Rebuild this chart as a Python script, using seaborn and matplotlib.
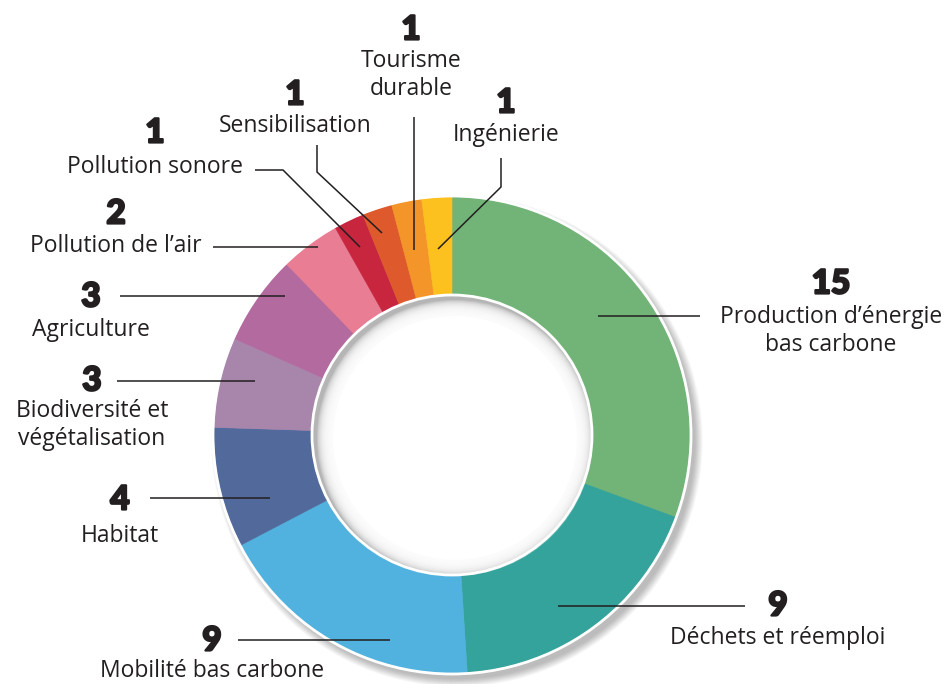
import matplotlib.pyplot as plt
import matplotlib.patches as mpatches
import matplotlib.patheffects as pe
import numpy as np
import seaborn as sns

sns.set_theme(style="white")
plt.rcParams['font.family'] = ['Open Sans', 'DejaVu Sans']

# data
labels = ["Production d\u2019énergie\nbas carbone", "Déchets et réemploi", "Mobilité bas carbone",
          "Habitat", "Biodiversité et\nvégétalisation", "Agriculture", "Pollution de l\u2019air",
          "Pollution sonore", "Sensibilisation", "Tourisme\ndurable", "Ingénierie"]
values = [15, 9, 9, 4, 3, 3, 2, 1, 1, 1, 1]
colors = ["#72B377", "#33A39B", "#52B2DF", "#516A9B", "#A886AC", "#B36A9F",
          "#E87D93", "#C8253F", "#DE5A2C", "#F39528", "#FCC11E"]

W, H = 946, 684
CX, CY = 452, 435
R_OUT, R_IN = 238, 140

# leader lines (pixel coords, y down): path points, number pos, label pos
callouts = [
    ([(598, 316), (700, 316)], (831, 284), (831, 331)),
    ([(558, 606), (745, 606)], (778, 606), (778, 638)),
    ([(390, 640), (238, 640)], (212, 641), (212, 671)),
    ([(270, 498), (150, 498)], (120, 500), (120, 536)),
    ([(255, 381), (117, 381)], (92, 381), (92, 425)),
    ([(285, 296), (120, 296)], (91, 297), (91, 330)),
    ([(318, 247), (213, 247)], (116, 214), (116, 246)),
    ([(360, 247), (283, 170), (255, 170)], (155, 133), (155, 167)),
    ([(382, 233), (317, 172), (317, 145)], (295, 95), (295, 126)),
    ([(414, 250), (414, 117)], (411, 30), (411, 75)),
    ([(438, 249), (501, 187), (501, 158)], (506, 103), (506, 135)),
]


def fy(y):
    return H - y


fig = plt.figure(figsize=(W / 100, H / 100), dpi=100)
ax = fig.add_axes([0, 0, 1, 1])

# soft outer shadow (mostly bottom-right)
for i in range(14):
    ax.add_patch(mpatches.Circle((CX + 5, fy(CY) - 6), R_OUT + i * 0.6,
                                 color="black", alpha=0.02, lw=0, zorder=0))

wedges, _ = ax.pie(values, colors=colors, startangle=90, counterclock=False,
                   radius=R_OUT, center=(CX, fy(CY)),
                   wedgeprops=dict(width=R_OUT - R_IN, linewidth=0.4))
for w, c in zip(wedges, colors):
    w.set_edgecolor(c)

# white outer rim
ax.add_patch(mpatches.Circle((CX, fy(CY)), R_OUT + 1, fill=False, ec="white", lw=2, zorder=3))
# inner shadow in the hole
ax.add_patch(mpatches.Circle((CX, fy(CY)), R_IN, color="#b5b5b5", lw=0, zorder=3))
for i in range(16):
    ax.add_patch(mpatches.Circle((CX + 3, fy(CY) - 3), R_IN - 2 - i * 1.0,
                                 color="white", alpha=0.22, lw=0, zorder=3))
ax.add_patch(mpatches.Circle((CX + 3, fy(CY) - 3), R_IN - 18, color="white", lw=0, zorder=3))
ax.add_patch(mpatches.Circle((CX, fy(CY)), R_IN, fill=False, ec="white", lw=2, zorder=4))

ink = "#231f20"
for (path, npos, lpos), lab, v in zip(callouts, labels, values):
    xs = [p[0] for p in path]
    ys = [fy(p[1]) for p in path]
    ax.plot(xs, ys, color=ink, lw=1.1, zorder=5, solid_capstyle="butt")
    ax.text(npos[0], fy(npos[1]), str(v), ha="center", va="center", fontsize=24,
            fontweight="black", family=["Lato", "DejaVu Sans"], color=ink,
            path_effects=[pe.withStroke(linewidth=1.6, foreground=ink)])
    ax.text(lpos[0], fy(lpos[1]), lab, ha="center", va="center", fontsize=16.5,
            color=ink, linespacing=1.22)

ax.set_xlim(0, W)
ax.set_ylim(0, H)
ax.set_aspect("equal")
ax.axis("off")

fig.savefig("out.png", dpi=100, facecolor="white")
